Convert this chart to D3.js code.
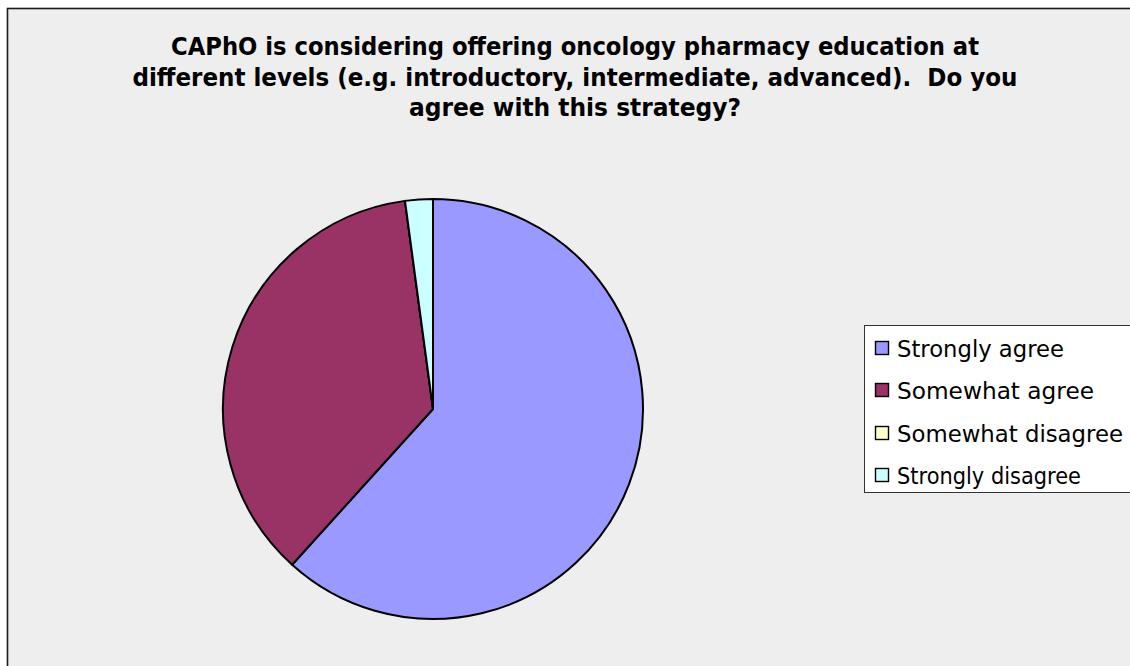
<!DOCTYPE html>
<html>
<head>
<meta charset="utf-8">
<script src="https://cdn.jsdelivr.net/npm/d3@7"></script>
<style>
  html, body { margin: 0; padding: 0; background: #ffffff; }
  svg { display: block; }
  text { white-space: pre; }
</style>
</head>
<body>
<svg id="chart" width="1130" height="666"></svg>
<script>
const titleLines = [
  "CAPhO is considering offering oncology pharmacy education at",
  "different levels (e.g. introductory, intermediate, advanced).  Do you",
  "agree with this strategy?"
];
const categories = ["Strongly agree", "Somewhat agree", "Somewhat disagree", "Strongly disagree"];
const values = [29, 17, 0, 1];
const colors = ["#9999FF", "#993366", "#FFFFCC", "#CCFFFF"];

const svg = d3.select("#chart");
const W = 1130, H = 666;

// chart area
svg.append("rect").attr("x", 0).attr("y", 0).attr("width", W).attr("height", H).attr("fill", "#ffffff");
svg.append("rect")
  .attr("x", 7.5).attr("y", 8.5).attr("width", 1140).attr("height", 680)
  .attr("fill", "#EEEEEE").attr("stroke", "#1a1a1a").attr("stroke-width", 1.6);

// title
const titleWidths = [808, 885, 332];
const titleBase = [55, 86, 116];
const title = svg.append("g");
titleLines.forEach((t, i) => {
  title.append("text")
    .attr("x", 575).attr("y", titleBase[i])
    .attr("text-anchor", "middle")
    .attr("font-family", "DejaVu Sans, Verdana, sans-serif")
    .attr("font-weight", "bold")
    .attr("font-size", 24)
    .attr("textLength", titleWidths[i])
    .attr("lengthAdjust", "spacingAndGlyphs")
    .attr("fill", "#000")
    .text(t);
});

// pie
const cx = 433, cy = 409, r = 210;
const pie = d3.pie().sort(null).value(d => d.v).startAngle(0).endAngle(2 * Math.PI);
const data = categories.map((c, i) => ({ c, v: values[i], color: colors[i] }));
const arcs = pie(data);
const arc = d3.arc().innerRadius(0).outerRadius(r);
const g = svg.append("g").attr("transform", `translate(${cx},${cy})`);
g.selectAll("path").data(arcs).enter().append("path")
  .attr("d", arc)
  .attr("fill", d => d.data.color)
  .attr("stroke", "#000")
  .attr("stroke-width", 2)
  .attr("stroke-linejoin", "round");

// legend
const lg = svg.append("g");
lg.append("rect")
  .attr("x", 864.5).attr("y", 325.5).attr("width", 300).attr("height", 167)
  .attr("fill", "#ffffff").attr("stroke", "#333").attr("stroke-width", 1);
const legBase = [357, 399, 442, 484];
categories.forEach((c, i) => {
  lg.append("rect")
    .attr("x", 875.5).attr("y", legBase[i] - 15.5).attr("width", 13).attr("height", 13)
    .attr("fill", colors[i]).attr("stroke", "#000").attr("stroke-width", 1.4);
  lg.append("text")
    .attr("x", 897).attr("y", legBase[i])
    .attr("font-family", "DejaVu Sans, Verdana, sans-serif")
    .attr("font-size", 22.5)
    .attr("fill", "#000")
    .text(c);
});
// fit legend text widths to reference
const legWidths = [167, 197, 226, 184];
lg.selectAll("text").each(function(d, i) {
  d3.select(this).attr("textLength", legWidths[i]).attr("lengthAdjust", "spacingAndGlyphs");
});
</script>
</body>
</html>
